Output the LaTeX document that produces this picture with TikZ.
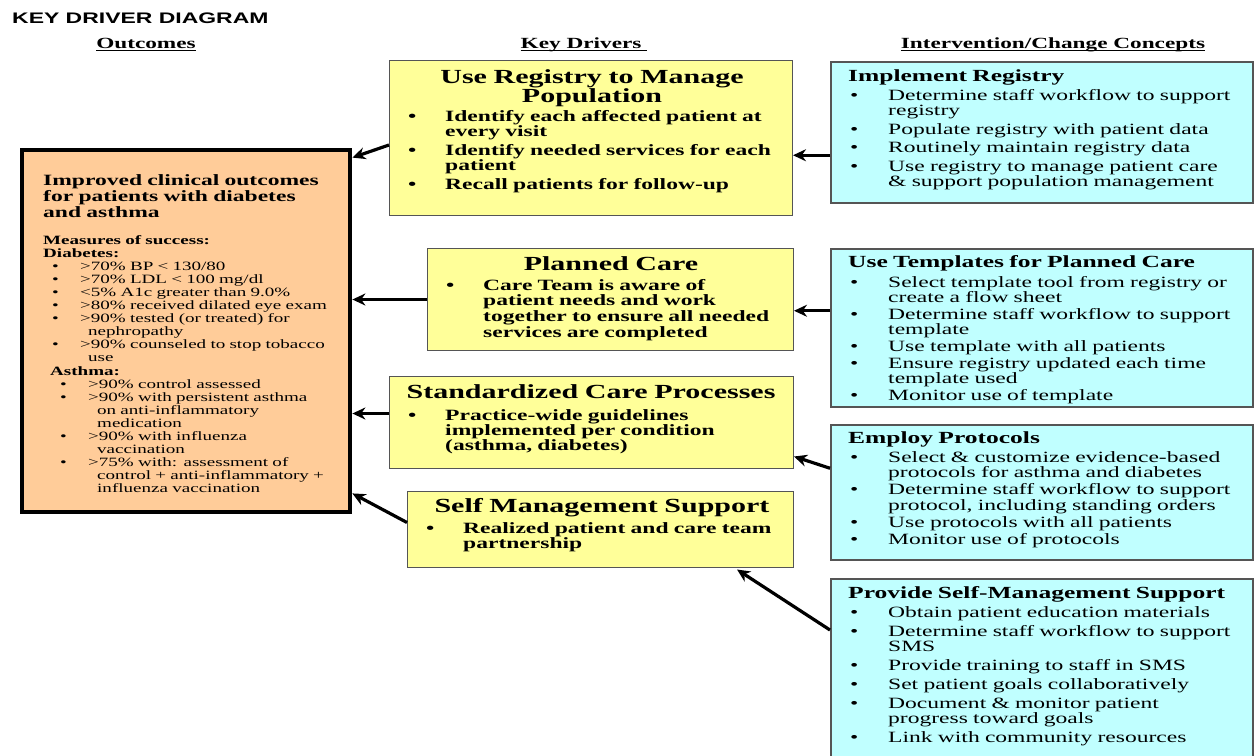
\documentclass[tikz,border=0pt]{standalone}
\usepackage{fontspec}
\setmainfont{Liberation Serif}[FakeStretch=1.5]
\newfontfamily\titlefont{Liberation Sans}[FakeStretch=1.5]
\usetikzlibrary{arrows.meta,calc}

\definecolor{yfill}{HTML}{FFFF99}
\definecolor{bfill}{HTML}{C0FFFF}
\definecolor{ofill}{HTML}{FFCC99}
\definecolor{bord}{HTML}{555555}

% list lines: bullet offset, text offset, text
\newcommand\itm[3]{\hspace*{#1pt}\makebox[\dimexpr#2pt-#1pt\relax][l]{\textbullet}#3}
\newcommand\cnt[2]{\hspace*{#1pt}#2}
% outcome box (diabetes / asthma lists)
\newcommand\di{\itm{9}{37}}
\newcommand\dc{\cnt{45}}
\newcommand\ai{\itm{17}{45}}
\newcommand\ac{\cnt{54}}
% key driver boxes
\newcommand\yi{\itm{0}{37}}
\newcommand\yc{\cnt{37}}
% change concept boxes
\newcommand\ci{\itm{2}{40}}
\newcommand\cc{\cnt{40}}

% underlined column header
\newsavebox\hdbox
\newcommand\hdul[1]{\sbox\hdbox{#1}\rlap{\rule[-2.5pt]{\wd\hdbox}{1pt}}\usebox\hdbox}

\begin{document}
\begin{tikzpicture}[x=1pt,y=-1pt,
  outbox/.style={draw=black, fill=ofill, line width=4.8pt, anchor=north west, inner sep=0pt},
  ybox/.style={draw=bord, fill=yfill, line width=1pt, anchor=north west, inner sep=0pt},
  bbox/.style={draw=bord, fill=bfill, line width=1.5pt, anchor=north west, inner sep=0pt},
  txt/.style={anchor=base west, inner sep=0pt, text width=420pt, align=left},
  ttl/.style={anchor=base, inner sep=0pt, text width=400pt, align=center,
              font=\fontsize{20}{19}\selectfont\bfseries},
  hdr/.style={anchor=base, inner sep=0pt, font=\fontsize{15.5}{16}\selectfont\bfseries},
  arr/.style={line width=3.2pt, -{Stealth[length=13pt,width=12pt]}}]

\fill[white] (0,0) rectangle (1255,755);
\useasboundingbox (0,0) rectangle (1255,755);

% title and column headers
\node[anchor=base west, inner sep=0pt, font=\titlefont\bfseries\fontsize{15.3}{16}\selectfont]
  (title) at (12,23) {KEY DRIVER DIAGRAM};
\node[hdr] (hout) at (146,48) {\hdul{Outcomes}};
\node[hdr] (hkey) at (584,48) {\hdul{Key Drivers\ }};
\node[hdr] (hint) at (1053,48) {\hdul{Intervention/Change Concepts}};

% ---------- outcome ----------
\node[outbox, minimum width=328pt, minimum height=362pt] (out) at (19.6,147.6) {};
\node[txt, font=\fontsize{15.7}{16}\selectfont\bfseries] (outh) at (43,185)
  {Improved clinical outcomes\\ for patients with diabetes\\ and asthma};
\node[txt, font=\fontsize{12.7}{13.1}\selectfont] (outm) at (43,244) {%
  \textbf{Measures of success:}\\
  \textbf{Diabetes:}\\
  \di{>70\% BP < 130/80}\\
  \di{>70\% LDL < 100 mg/dl}\\
  \di{<5\% A1c greater than 9.0\%}\\
  \di{>80\% received dilated eye exam}\\
  \di{>90\% tested (or treated) for}\\
  \dc{nephropathy}\\
  \di{>90\% counseled to stop tobacco}\\
  \dc{use}\\
  \cnt{7}{\textbf{Asthma:}}\\
  \ai{>90\% control assessed}\\
  \ai{>90\% with persistent asthma}\\
  \ac{on anti-inflammatory}\\
  \ac{medication}\\
  \ai{>90\% with influenza}\\
  \ac{vaccination}\\
  \ai{>75\% with: assessment of}\\
  \ac{control + anti-inflammatory +}\\
  \ac{influenza vaccination}};

% ---------- key drivers ----------
\node[ybox, minimum width=403pt, minimum height=155pt] (y1) at (389,60) {};
\node[ttl] (y1t) at (592,83) {Use Registry to Manage\\ Population};
\node[txt, font=\fontsize{15.7}{15}\selectfont\bfseries] (y1b) at (408,121) {%
  \yi{Identify each affected patient at}\\
  \yc{every visit}\\[4pt]
  \yi{Identify needed services for each}\\
  \yc{patient}\\[4pt]
  \yi{Recall patients for follow-up}};

\node[ybox, minimum width=366pt, minimum height=102pt] (y2) at (427,248) {};
\node[ttl] (y2t) at (611,270) {Planned Care};
\node[txt, font=\fontsize{15.7}{15.7}\selectfont\bfseries] (y2b) at (446,290) {%
  \yi{Care Team is aware of}\\
  \yc{patient needs and work}\\
  \yc{together to ensure all needed}\\
  \yc{services are completed}};

\node[ybox, minimum width=404pt, minimum height=92pt] (y3) at (389,376) {};
\node[ttl] (y3t) at (591,398) {Standardized Care Processes};
\node[txt, font=\fontsize{15.7}{15}\selectfont\bfseries] (y3b) at (408,420) {%
  \yi{Practice-wide guidelines}\\
  \yc{implemented per condition}\\
  \yc{(asthma, diabetes)}};

\node[ybox, minimum width=386pt, minimum height=76pt] (y4) at (407,491) {};
\node[ttl] (y4t) at (602,512) {Self Management Support};
\node[txt, font=\fontsize{15.7}{15}\selectfont\bfseries] (y4b) at (426,533) {%
  \yi{Realized patient and care team}\\
  \yc{partnership}};

% ---------- change concepts ----------
\node[bbox, minimum width=422pt, minimum height=141pt] (b1) at (830,61) {};
\node[txt, font=\fontsize{15.7}{15.5}\selectfont] (b1t) at (848,81) {%
  {\bfseries\fontsize{17}{15.5}\selectfont Implement Registry}\\[3.5pt]
  \ci{Determine staff workflow to support}\\
  \cc{registry}\\[3pt]
  \ci{Populate registry with patient data}\\[3pt]
  \ci{Routinely maintain registry data}\\[3pt]
  \ci{Use registry to manage patient care}\\
  \cc{\& support population management}};

\node[bbox, minimum width=422pt, minimum height=158pt] (b2) at (830,248) {};
\node[txt, font=\fontsize{15.7}{15}\selectfont] (b2t) at (848,267) {%
  {\bfseries\fontsize{17}{15}\selectfont Use Templates for Planned Care}\\[5pt]
  \ci{Select template tool from registry or}\\
  \cc{create a flow sheet}\\[2pt]
  \ci{Determine staff workflow to support}\\
  \cc{template}\\[2pt]
  \ci{Use template with all patients}\\[2pt]
  \ci{Ensure registry updated each time}\\
  \cc{template used}\\[2pt]
  \ci{Monitor use of template}};

\node[bbox, minimum width=422pt, minimum height=135pt] (b3) at (830,424) {};
\node[txt, font=\fontsize{15.7}{15.5}\selectfont] (b3t) at (848,443) {%
  {\bfseries\fontsize{17}{15.5}\selectfont Employ Protocols}\\[3.5pt]
  \ci{Select \& customize evidence-based}\\
  \cc{protocols for asthma and diabetes}\\[1.5pt]
  \ci{Determine staff workflow to support}\\
  \cc{protocol, including standing orders}\\[1.5pt]
  \ci{Use protocols with all patients}\\[1.5pt]
  \ci{Monitor use of protocols}};

\node[bbox, minimum width=422pt, minimum height=182pt] (b4) at (830,578) {};
\node[txt, font=\fontsize{15.7}{15}\selectfont] (b4t) at (848,598) {%
  {\bfseries\fontsize{17}{15}\selectfont Provide Self-Management Support}\\[4pt]
  \ci{Obtain patient education materials}\\[4pt]
  \ci{Determine staff workflow to support}\\
  \cc{SMS}\\[4pt]
  \ci{Provide training to staff in SMS}\\[4pt]
  \ci{Set patient goals collaboratively}\\[4pt]
  \ci{Document \& monitor patient}\\
  \cc{progress toward goals}\\[4pt]
  \ci{Link with community resources}};

% ---------- connectors ----------
\draw[arr] ($(y1.north west)+(0,85)$) -- ($(out.north east)+(0,10)$);
\draw[arr] (y2.west) -- (y2.west -| out.east);
\draw[arr] ($(y3.west)+(0,-9)$) coordinate (a3) -- (a3 -| out.east);
\draw[arr] ($(y4.west)+(0,-7)$) -- ($(out.south east)+(0,-21)$);

\draw[arr] ($(b1.west)+(0,23)$) coordinate (c1) -- (c1 -| y1.east);
\draw[arr] ($(b2.west)+(0,-17)$) coordinate (c2) -- (c2 -| y2.east);
\draw[arr] ($(b3.west)+(0,-24)$) -- ($(y3.east)+(0,34)$);
\draw[arr] ($(b4.north west)+(0,52)$) -- ($(y4.south west)+(330,1.5)$);
\end{tikzpicture}
\end{document}
